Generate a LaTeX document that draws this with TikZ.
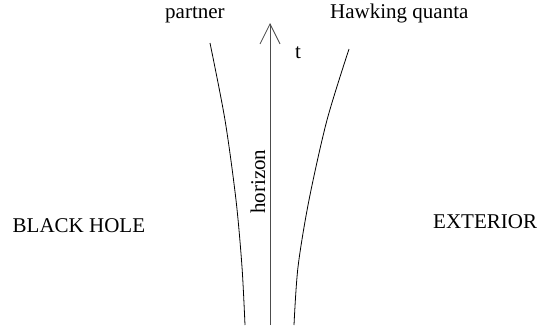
\documentclass[tikz,border=0pt]{standalone}
\usepackage{fontspec}
\setmainfont{Liberation Serif}
\usetikzlibrary{arrows.meta}
\begin{document}
\begin{tikzpicture}[x=1pt,y=-1pt,
  lbl/.style={font=\fontsize{21}{24}\selectfont, inner sep=0pt},
  wline/.style={line width=0.8pt, black},
  axis/.style={line width=0.9pt, black!70, -{Straight Barb[length=20pt,width=20pt,line width=0.8pt]}}]
\useasboundingbox (0,0) rectangle (538,325);
\coordinate (a0) at (270,325);
\coordinate (a1) at (270,23);
\draw[axis] (a0) -- (a1);
\draw[wline] plot[smooth] coordinates {(210,43) (225,120) (236,200) (242,267) (245,325)};
\draw[wline] plot[smooth] coordinates {(349,49) (327,120) (309,200) (298,267) (294,325)};
\node[lbl, anchor=base west] (partner) at (165,18) {partner};
\node[lbl, anchor=base west] (hq) at (330,18) {Hawking quanta};
\node[lbl, anchor=base west] (t) at (295,58) {t};
\node[lbl, anchor=base west, rotate=90] (hor) at (265,214) {horizon};
\node[lbl, anchor=base west] (bh) at (12.5,232) {BLACK HOLE};
\node[lbl, anchor=base west] (ext) at (433,228) {EXTERIOR};
\end{tikzpicture}
\end{document}
